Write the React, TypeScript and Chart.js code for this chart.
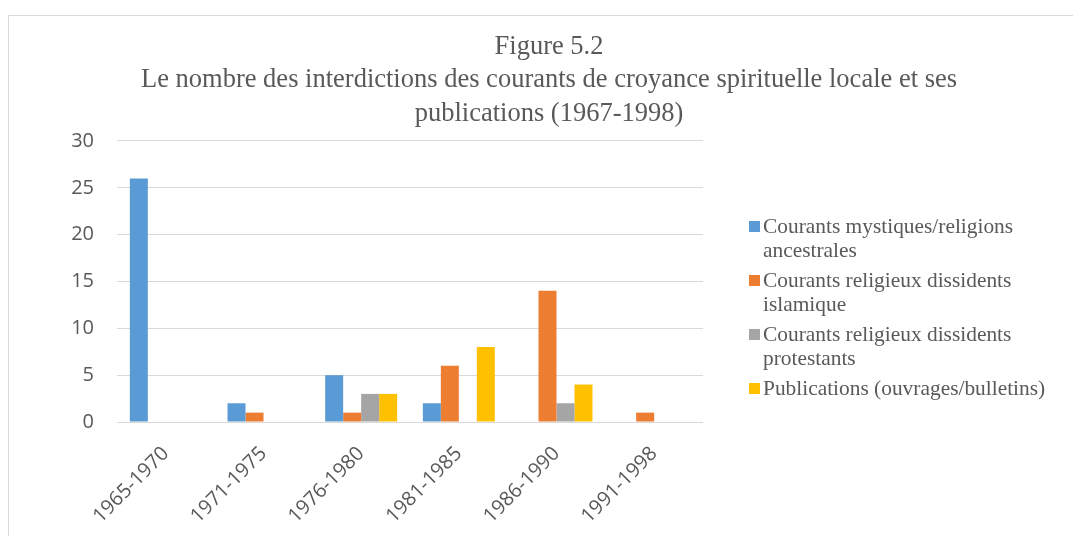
import React, { useEffect, useRef } from "react";
import { Chart, registerables } from "chart.js";

Chart.register(...registerables);

const titleLines = [
  "Figure 5.2",
  "Le nombre des interdictions des courants de croyance spirituelle locale et ses",
  "publications (1967-1998)",
];
const categories = ["1965-1970", "1971-1975", "1976-1980", "1981-1985", "1986-1990", "1991-1998"];
const seriesNames = [
  "Courants mystiques/religions ancestrales",
  "Courants religieux dissidents islamique",
  "Courants religieux dissidents protestants",
  "Publications (ouvrages/bulletins)",
];
const mystiques = [26, 2, 5, 2, 0, 0];
const islamique = [0, 1, 1, 6, 14, 1];
const protestants = [0, 0, 3, 0, 2, 0];
const publications = [0, 0, 3, 8, 4, 0];
const seriesColors = ["#5B9BD5", "#ED7D31", "#A5A5A5", "#FFC000"];
const yMin = 0;
const yMax = 30;
const yStep = 5;

const TEXT = "#595959";
const TICK_FONT = { family: "'Open Sans', sans-serif", size: 20 };

function wrapText(ctx: CanvasRenderingContext2D, text: string, maxWidth: number): string[] {
  const words = text.split(" ");
  const lines: string[] = [];
  let cur = "";
  for (const w of words) {
    const test = cur ? cur + " " + w : w;
    if (ctx.measureText(test).width > maxWidth && cur) {
      lines.push(cur);
      cur = w;
    } else {
      cur = test;
    }
  }
  if (cur) lines.push(cur);
  return lines;
}

const sideLegend = {
  id: "sideLegend",
  afterDraw(chart: any) {
    const ctx: CanvasRenderingContext2D = chart.ctx;
    const area = chart.chartArea;
    ctx.save();
    ctx.font = "21.4px 'Liberation Serif', serif";
    ctx.textBaseline = "middle";
    ctx.textAlign = "left";
    const x0 = area.right + 46;
    let y = area.top + 85;
    const lineH = 24;
    chart.data.datasets.forEach((ds: any) => {
      const lines = wrapText(ctx, ds.label, 295);
      ctx.fillStyle = ds.backgroundColor;
      ctx.fillRect(x0, y - 5, 11, 11);
      ctx.fillStyle = TEXT;
      lines.forEach((ln, j) => ctx.fillText(ln, x0 + 14, y + j * lineH + 1));
      y += lines.length * lineH + 6;
    });
    ctx.restore();
  },
};

export default function App() {
  const ref = useRef<HTMLCanvasElement | null>(null);

  useEffect(() => {
    if (!ref.current) return;
    const seriesValues = [mystiques, islamique, protestants, publications];
    const chart = new Chart(ref.current, {
      type: "bar",
      data: {
        labels: categories,
        datasets: seriesNames.map((name, i) => ({
          label: name,
          data: seriesValues[i],
          backgroundColor: seriesColors[i],
          borderWidth: 0,
          categoryPercentage: 0.737,
          barPercentage: 1,
          yAxisID: "y",
        })),
      },
      options: {
        responsive: false,
        animation: false,
        devicePixelRatio: 1,
        layout: { padding: { left: 16, right: 0, top: 0, bottom: 0 } },
        plugins: {
          legend: { display: false },
          tooltip: { enabled: false },
          title: {
            display: true,
            text: titleLines,
            color: TEXT,
            font: { family: "'Liberation Serif', serif", size: 26.5, weight: "normal", lineHeight: 1.264 },
            padding: { top: 14.25, bottom: 10.25 },
          },
        },
        scales: {
          x: {
            grid: { display: false },
            border: { display: false },
            ticks: {
              color: TEXT,
              font: TICK_FONT,
              minRotation: 45,
              maxRotation: 45,
              padding: 12,
            },
            afterFit: (s: any) => {
              s.height = 114;
            },
          },
          y: {
            min: yMin,
            max: yMax,
            border: { display: false },
            grid: { color: "#d9d9d9", drawTicks: false, lineWidth: 1 },
            ticks: { stepSize: yStep, color: TEXT, font: TICK_FONT, padding: 23 },
            afterFit: (s: any) => {
              s.width = 92;
            },
          },
          legendSpace: {
            type: "linear",
            position: "right",
            display: true,
            grid: { display: false },
            border: { display: false },
            ticks: { display: false },
            afterFit: (s: any) => {
              s.width = 370;
            },
          },
        },
      },
      plugins: [sideLegend],
    } as any);
    return () => chart.destroy();
  }, []);

  return (
    <div
      style={{
        position: "fixed",
        left: 8,
        top: 15,
        width: 1064,
        height: 520,
        borderTop: "1px solid #d9d9d9",
        borderLeft: "1px solid #d9d9d9",
        background: "#fff",
      }}
    >
      <canvas ref={ref} width={1064} height={520} style={{ display: "block" }} />
    </div>
  );
}
